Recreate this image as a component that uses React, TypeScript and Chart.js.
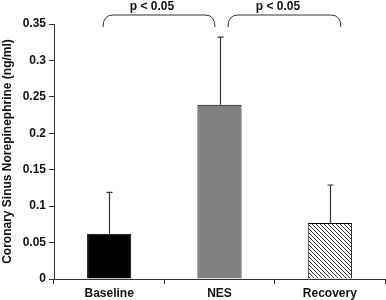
import React, { useEffect, useRef } from "react";
import { Chart, registerables } from "chart.js";

Chart.register(...registerables);

const categories = ["Baseline", "NES", "Recovery"];
const means = [0.062, 0.239, 0.077];
const errors = [0.057, 0.093, 0.052];
const yTicks = [0, 0.05, 0.1, 0.15, 0.2, 0.25, 0.3, 0.35];
const comparisons: [number, number][] = [[0, 1], [1, 2]];
const pLabels = ["p < 0.05", "p < 0.05"];

const FONT = "'Liberation Sans', Arial, sans-serif";

function hatchPattern(): CanvasPattern | string {
  const c = document.createElement("canvas");
  c.width = 4;
  c.height = 4;
  const g = c.getContext("2d");
  if (!g) return "#fff";
  g.fillStyle = "#fff";
  g.fillRect(0, 0, 4, 4);
  g.strokeStyle = "#333";
  g.lineWidth = 1;
  g.beginPath();
  g.moveTo(-1, -1);
  g.lineTo(5, 5);
  g.moveTo(-1, 3);
  g.lineTo(1, 5);
  g.moveTo(3, -1);
  g.lineTo(5, 1);
  g.stroke();
  const p = g.createPattern(c, "repeat");
  return p || "#fff";
}

const annotations = {
  id: "annotations",
  afterDatasetsDraw(chart: any) {
    const ctx = chart.ctx;
    const x = chart.scales.x;
    const y = chart.scales.y;
    const meta = chart.getDatasetMeta(0);
    ctx.save();
    // error bars (upper only)
    ctx.strokeStyle = "#333";
    ctx.lineWidth = 1.2;
    meta.data.forEach((bar: any, i: number) => {
      const cx = Math.round(bar.x) + 0.5;
      const yTop = y.getPixelForValue(means[i]);
      const yErr = y.getPixelForValue(means[i] + errors[i]);
      ctx.beginPath();
      ctx.moveTo(cx, yTop);
      ctx.lineTo(cx, yErr);
      ctx.moveTo(cx - 3, yErr);
      ctx.lineTo(cx + 3, yErr);
      ctx.stroke();
    });
    // brackets
    const ends = [[-0.056, 0.959], [1.077, 2.1]];
    const textPos = [0.388, 1.53];
    const top = chart.chartArea.top;
    comparisons.forEach((cmp, k) => {
      const x1 = x.getPixelForValue(cmp[0] + ends[k][0] - cmp[0]);
      const x2 = x.getPixelForValue(ends[k][1]);
      const yb = top - 9;
      const ye = top + 3;
      ctx.strokeStyle = "#333";
      ctx.lineWidth = 1;
      ctx.beginPath();
      ctx.moveTo(x1, ye);
      ctx.quadraticCurveTo(x1, yb, x1 + 10, yb);
      ctx.lineTo(x2 - 10, yb);
      ctx.quadraticCurveTo(x2, yb, x2, ye);
      ctx.stroke();
      ctx.fillStyle = "#111";
      ctx.font = `bold 12px ${FONT}`;
      ctx.textAlign = "center";
      ctx.textBaseline = "middle";
      ctx.fillText(pLabels[k], x.getPixelForValue(textPos[k]), top - 17);
    });
    ctx.restore();
  },
};

export default function App() {
  const ref = useRef<HTMLCanvasElement>(null);
  useEffect(() => {
    if (!ref.current) return;
    const chart = new Chart(ref.current, {
      type: "bar",
      data: {
        labels: categories,
        datasets: [
          {
            data: means,
            backgroundColor: ["#000000", "#808080", hatchPattern()] as any,
            borderColor: "#000",
            borderWidth: 1,
            barPercentage: 0.4,
            categoryPercentage: 1,
          },
        ],
      },
      options: {
        animation: false,
        responsive: false,
        maintainAspectRatio: false,
        layout: { padding: { top: 24, right: 1, left: 0, bottom: 0 } },
        plugins: { legend: { display: false }, tooltip: { enabled: false } },
        scales: {
          x: {
            grid: {
              offset: true,
              drawOnChartArea: false,
              drawTicks: true,
              tickLength: 5,
              color: "#333",
            },
            border: { display: true, color: "#333", width: 1 },
            ticks: {
              color: "#111",
              font: { family: FONT, size: 12, weight: "bold" },
              padding: 2,
            },
            afterFit(s: any) {
              s.height = 21;
            },
          },
          y: {
            min: 0,
            max: 0.35,
            afterBuildTicks(s: any) {
              s.ticks = yTicks.map((v) => ({ value: v }));
            },
            grid: {
              drawOnChartArea: false,
              drawTicks: true,
              tickLength: 5,
              color: "#333",
            },
            border: { display: true, color: "#333", width: 1 },
            ticks: {
              color: "#111",
              font: { family: FONT, size: 12, weight: "bold" },
              padding: 3,
              callback: (v: any) => String(Number(Number(v).toFixed(2))),
            },
            title: {
              display: true,
              text: "Coronary Sinus Norepinephrine (ng/ml)",
              color: "#111",
              font: { family: FONT, size: 12, weight: "bold" },
              padding: { top: 0, bottom: 0 },
            },
            afterFit(s: any) {
              s.width = 54;
            },
          },
        },
      },
      plugins: [annotations],
    });
    return () => chart.destroy();
  }, []);
  return (
    <div style={{ position: "fixed", left: 0, top: 0, width: 386, height: 300, background: "#fff" }}>
      <canvas ref={ref} width={386} height={300} style={{ width: 386, height: 300 }} />
    </div>
  );
}
